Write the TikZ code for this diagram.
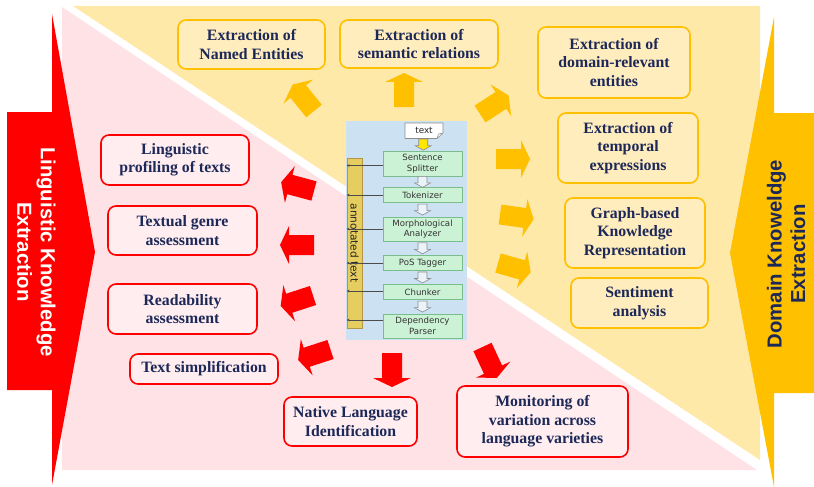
\documentclass[tikz,border=0pt]{standalone}
\usepackage{fontspec}
\setmainfont{Liberation Serif}
\newfontfamily\bannerfont{Liberation Sans}
\newfontfamily\pipefont{DejaVu Sans}
\usetikzlibrary{arrows.meta,calc}
\definecolor{pinkbg}{RGB}{255,226,229}
\definecolor{yellowbg}{RGB}{255,233,168}
\definecolor{pinkbox}{RGB}{255,237,239}
\definecolor{yellowbox}{RGB}{255,237,190}
\definecolor{gold}{RGB}{255,192,0}
\definecolor{navy}{RGB}{28,40,88}
\definecolor{panelblue}{RGB}{204,225,242}
\definecolor{greenfill}{RGB}{204,242,214}
\definecolor{greenline}{RGB}{120,190,140}
\definecolor{barfill}{RGB}{230,205,95}
\definecolor{barline}{RGB}{180,150,70}
\newcommand\bxfont{\bfseries\fontsize{15.8}{18.5}\selectfont}
\newcommand\blockarr[3]{%
  \fill[#1, shift={(#2)}, rotate=#3] (0pt,-10pt) -- (25pt,-10pt) -- (25pt,-19pt) -- (34pt,0pt) -- (25pt,19pt) -- (25pt,10pt) -- (0pt,10pt) -- cycle;}
\newcommand\hollowarr[3]{%
  \path[draw=black!45, line width=0.6pt, fill=#3, shift={($(#1.south)!0.5!(#2.north)$)}] (-4.5pt,5.5pt) -- (4.5pt,5.5pt) -- (4.5pt,-1pt) -- (8pt,-1pt) -- (0pt,-5.5pt) -- (-8pt,-1pt) -- (-4.5pt,-1pt) -- cycle;}
\begin{document}
\begin{tikzpicture}[x=1pt,y=-1pt,
  redbox/.style={draw=red, line width=1.6pt, fill=pinkbox, rounded corners=8pt, align=center, font=\bxfont, text=navy, inner sep=0pt},
  ylwbox/.style={draw=gold, line width=1.6pt, fill=yellowbox, rounded corners=8pt, align=center, font=\bxfont, text=navy, inner sep=0pt},
  pipebox/.style={draw=greenline, fill=greenfill, line width=0.8pt, minimum width=79pt, inner sep=0pt, align=center, font=\pipefont\fontsize{8.6}{10.5}\selectfont, text=black!80},
  conn/.style={-{Stealth[length=3pt,width=2.6pt]}, draw=black!70, line width=0.5pt},
  bannertext/.style={align=center, font=\bannerfont\bfseries\fontsize{20.3}{23.5}\selectfont}]
\useasboundingbox (0,0) rectangle (814,487);
% backgrounds
\fill[yellowbg] (73,6) -- (760,6) -- (760,460) -- cycle;
\fill[pinkbg] (62,7) -- (757,470) -- (62,470) -- cycle;
% banners
\fill[red] (7,112) -- (52,112) -- (52,14) -- (95,252) -- (52,485) -- (52,390) -- (7,390) -- cycle;
\fill[gold] (774,17) -- (774,113) -- (814,113) -- (814,393) -- (774,393) -- (774,487) -- (730,253) -- cycle;
\node[bannertext, rotate=-90, text=white] (lk) at (36.5,252) {Linguistic Knowledge\\Extraction};
\node[bannertext, rotate=90, text=navy] (dk) at (786,254) {Domain Knoweldge\\Extraction};
% yellow boxes
\node[ylwbox, minimum width=147pt, minimum height=49pt] (ne) at (251.5,44.5) {Extraction of\\Named Entities};
\node[ylwbox, minimum width=158pt, minimum height=48pt] (sr) at (419,44) {Extraction of\\semantic relations};
\node[ylwbox, minimum width=152pt, minimum height=71pt] (dre) at (614,62.5) {Extraction of\\domain-relevant\\entities};
\node[ylwbox, minimum width=140pt, minimum height=70pt] (te) at (628,148) {Extraction of\\temporal\\expressions};
\node[ylwbox, minimum width=140pt, minimum height=70pt] (gkr) at (635,233) {Graph-based\\Knowledge\\Representation};
\node[ylwbox, minimum width=137pt, minimum height=50pt] (sa) at (639.5,303) {Sentiment\\analysis};
% red boxes
\node[redbox, minimum width=148pt, minimum height=50pt] (lp) at (175,160) {Linguistic\\profiling of texts};
\node[redbox, minimum width=149pt, minimum height=49pt] (tg) at (182.5,230.5) {Textual genre\\assessment};
\node[redbox, minimum width=149pt, minimum height=50pt] (ra) at (182.5,309) {Readability\\assessment};
\node[redbox, minimum width=148pt, minimum height=30pt] (ts) at (204,369) {Text simplification};
\node[redbox, minimum width=133pt, minimum height=49pt] (nli) at (350.5,421.5) {Native Language\\Identification};
\node[redbox, minimum width=171pt, minimum height=71pt] (mv) at (542.5,421.5) {Monitoring of\\variation across\\language varieties};
% yellow block arrows
\blockarr{gold}{314,111}{129}
\blockarr{gold}{404,107}{90}
\blockarr{gold}{480,114}{33}
\blockarr{gold}{496,159}{0}
\blockarr{gold}{500,214.5}{-8}
\blockarr{gold}{498,263}{-16}
% red block arrows
\blockarr{red}{314,191}{165}
\blockarr{red}{314,245}{180}
\blockarr{red}{313,295.5}{198}
\blockarr{red}{330.5,349.5}{198}
\blockarr{red}{392,353}{-90}
\blockarr{red}{482.5,347}{-65}
% pipeline panel
\fill[panelblue] (346,121) rectangle (467,340);
\path[draw=black!45, line width=0.6pt, fill=white] (405,123) -- (443,123) -- (443,133) -- (437,138.5) -- (405,138.5) -- cycle;
\draw[black!45, line width=0.5pt] (443,133) -- (438.5,134) -- (437,138.5);
\node[inner sep=0pt, minimum width=38pt, minimum height=15.5pt, font=\pipefont\fontsize{8.8}{10}\selectfont, text=black!85] (txt) at (424,130.8) {text};
\node[pipebox, minimum height=25pt] (ss) at (422.5,163.5) {Sentence\\Splitter};
\node[pipebox, minimum height=14.5pt] (tok) at (422.5,195) {Tokenizer};
\node[pipebox, minimum height=24pt] (morph) at (422.5,229) {Morphological\\Analyzer};
\node[pipebox, minimum height=14.5pt] (pos) at (422.5,263) {PoS Tagger};
\node[pipebox, minimum height=14.5pt] (chunk) at (422.5,292) {Chunker};
\node[pipebox, minimum height=24pt] (dep) at (422.5,326) {Dependency\\Parser};
\node[draw=barline, fill=barfill, line width=0.7pt, rotate=-90, minimum width=170pt, minimum height=15pt, inner sep=0pt, font=\pipefont\fontsize{10.6}{12}\selectfont, text=black!85] (bar) at (354.5,243) {annotated text};
\hollowarr{txt}{ss}{yellow!90!orange}
\hollowarr{ss}{tok}{panelblue!40!white}
\hollowarr{tok}{morph}{panelblue!40!white}
\hollowarr{morph}{pos}{panelblue!40!white}
\hollowarr{pos}{chunk}{panelblue!40!white}
\hollowarr{chunk}{dep}{panelblue!40!white}
\draw[conn] ([yshift=-2pt]ss.west) -- ([yshift=-2pt]ss.west -| bar.south);
\draw[conn] (tok.west) -- (tok.west -| bar.south);
\draw[conn] (morph.west) -- (morph.west -| bar.south);
\draw[conn] (pos.west) -- (pos.west -| bar.south);
\draw[conn] ([yshift=1pt]chunk.west) -- ([yshift=1pt]chunk.west -| bar.south);
\draw[conn] ([yshift=6pt]dep.west) -- ([yshift=6pt]dep.west -| bar.south);
\end{tikzpicture}
\end{document}
